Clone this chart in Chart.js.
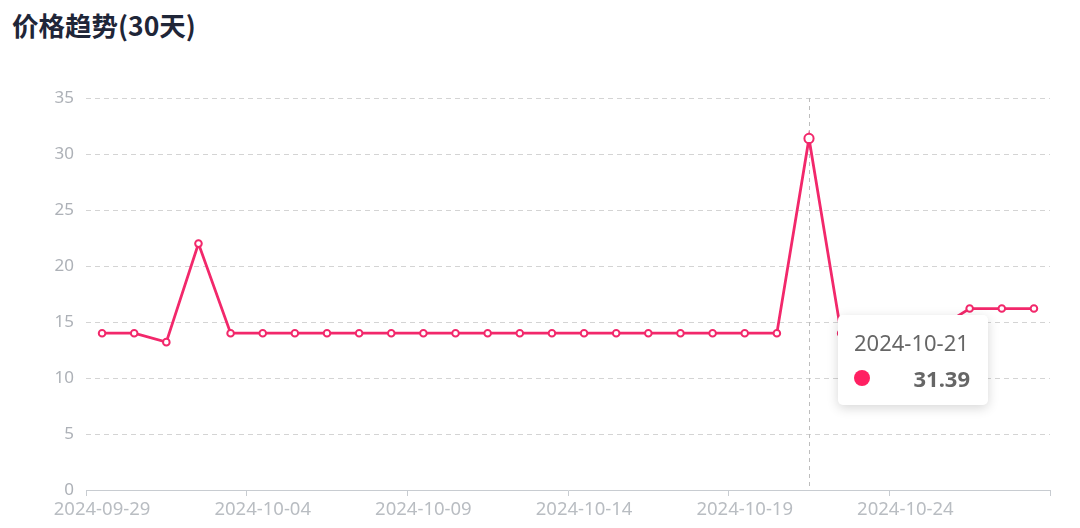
<!DOCTYPE html>
<html>
<head>
<meta charset="utf-8">
<script src="https://cdn.jsdelivr.net/npm/chart.js@4"></script>
<style>
  html, body { margin: 0; padding: 0; background: #fff; }
  #wrap { position: relative; width: 1080px; height: 528px; }
  #title {
    position: absolute; left: 12px; top: 9px;
    font: bold 26.5px "Noto Sans CJK SC", "Noto Sans", sans-serif;
    line-height: 32px; color: #1f2638;
  }
  #priceChart { position: absolute; left: 0; top: 0; }
  #tip {
    position: absolute; display: none; box-sizing: border-box;
    width: 150px; padding: 13px 18px 13px 16px;
    background: #fff; border-radius: 5px;
    box-shadow: 0 3px 12px rgba(0, 0, 0, 0.16);
    font-family: "Noto Sans", sans-serif; color: #666;
  }
  #tip .date { font-size: 22px; line-height: 28px; }
  #tip .row { display: flex; align-items: center; justify-content: space-between; margin-top: 8px; height: 28px; }
  #tip .dot { width: 16px; height: 16px; border-radius: 50%; background: #ff2062; }
  #tip .val { font-size: 22px; font-weight: bold; }
</style>
</head>
<body>
<div id="wrap">
  <div id="title">价格趋势(30天)</div>
  <canvas id="priceChart" width="1080" height="528"></canvas>
  <div id="tip"></div>
</div>
<script>
// dates, one per day
const days = [
  "2024-09-29", "2024-09-30", "2024-10-01", "2024-10-02", "2024-10-03",
  "2024-10-04", "2024-10-05", "2024-10-06", "2024-10-07", "2024-10-08",
  "2024-10-09", "2024-10-10", "2024-10-11", "2024-10-12", "2024-10-13",
  "2024-10-14", "2024-10-15", "2024-10-16", "2024-10-17", "2024-10-18",
  "2024-10-19", "2024-10-20", "2024-10-21", "2024-10-22", "2024-10-23",
  "2024-10-24", "2024-10-25", "2024-10-26", "2024-10-27", "2024-10-28"
];
// price per day
const prices = [
  14, 14, 13.2, 22, 14,
  14, 14, 14, 14, 14,
  14, 14, 14, 14, 14,
  14, 14, 14, 14, 14,
  14, 14, 31.39, 14, 14,
  14, 14.4, 16.2, 16.2, 16.2
];
const yTicks = [0, 5, 10, 15, 20, 25, 30, 35];
const activeIndex = 22;

const lineColor = "#f2286b";

// tooltip sits where the mouse was
Chart.Tooltip.positioners.atMouse = function (elements, pos) {
  if (!elements.length || !pos) return false;
  return { x: pos.x, y: pos.y };
};

function htmlTooltip(context) {
  const tip = document.getElementById("tip");
  const model = context.tooltip;
  if (model.opacity === 0 || !model.dataPoints || !model.dataPoints.length) {
    tip.style.display = "none";
    return;
  }
  const dp = model.dataPoints[0];
  tip.innerHTML =
    '<div class="date">' + dp.label + '</div>' +
    '<div class="row"><span class="dot"></span><span class="val">' +
    dp.raw.toFixed(2) + '</span></div>';
  tip.style.display = "block";
  tip.style.left = (model.caretX + 29) + "px";
  tip.style.top = model.caretY + "px";
}

// dashed vertical pointer line at the active point
const crosshair = {
  id: "crosshair",
  beforeDatasetsDraw(chart) {
    const active = chart.tooltip.getActiveElements();
    if (!active.length) return;
    const x = active[0].element.x;
    const area = chart.chartArea;
    const ctx = chart.ctx;
    ctx.save();
    ctx.strokeStyle = "#bdbdbd";
    ctx.lineWidth = 1;
    ctx.setLineDash([4, 4]);
    ctx.beginPath();
    ctx.moveTo(Math.round(x) + 0.5, area.top);
    ctx.lineTo(Math.round(x) + 0.5, area.bottom);
    ctx.stroke();
    ctx.restore();
  }
};

const chart = new Chart(document.getElementById("priceChart"), {
  type: "line",
  data: {
    labels: days,
    datasets: [{
      label: "价格",
      data: prices,
      borderColor: lineColor,
      borderWidth: 2.8,
      backgroundColor: "#fff",
      pointBackgroundColor: "#fff",
      pointBorderColor: lineColor,
      pointBorderWidth: 2,
      pointRadius: 3.3,
      pointHoverRadius: 4.6,
      pointHoverBorderWidth: 2,
      pointHoverBackgroundColor: "#fff",
      pointHoverBorderColor: lineColor,
      tension: 0,
      fill: false
    }]
  },
  options: {
    responsive: false,
    animation: false,
    layout: { padding: { top: 98, right: 30, bottom: 0, left: 0 } },
    plugins: {
      legend: { display: false },
      tooltip: {
        enabled: false,
        mode: "index",
        intersect: false,
        position: "atMouse",
        external: htmlTooltip
      }
    },
    scales: {
      x: {
        type: "category",
        offset: true,
        afterFit: (scale) => { scale.height = 38; },
        border: { display: true, color: "#c8ccd1", width: 1 },
        grid: {
          offset: true,
          drawOnChartArea: false,
          drawTicks: true,
          tickLength: 6,
          tickColor: (ctx) => (ctx.index === undefined || ctx.index % 5 === 0) ? "#c8ccd1" : "rgba(0,0,0,0)"
        },
        ticks: {
          autoSkip: false,
          maxRotation: 0,
          padding: 3,
          color: "#b9bdc2",
          font: { family: "Noto Sans", size: 18.5 },
          callback: function (value, index) {
            return index % 5 === 0 ? this.getLabelForValue(value) : "";
          }
        }
      },
      y: {
        min: yTicks[0],
        max: yTicks[yTicks.length - 1],
        afterFit: (scale) => { scale.width = 86; },
        afterBuildTicks: (scale) => { scale.ticks = yTicks.map(v => ({ value: v })); },
        grid: {
          color: "#d4d4d4",
          lineWidth: 1,
          drawTicks: false
        },
        border: { display: false, dash: [5, 4] },
        ticks: {
          padding: 12,
          color: "#adb1b7",
          font: { family: "Noto Sans", size: 17 }
        }
      }
    }
  },
  plugins: [crosshair]
});

// show the hovered state for 2024-10-21
const pos = {
  x: chart.scales.x.getPixelForValue(activeIndex),
  y: chart.scales.y.getPixelForValue(15.6)
};
chart.setActiveElements([{ datasetIndex: 0, index: activeIndex }]);
chart.tooltip.setActiveElements([{ datasetIndex: 0, index: activeIndex }], pos);
chart.update();
</script>
</body>
</html>
